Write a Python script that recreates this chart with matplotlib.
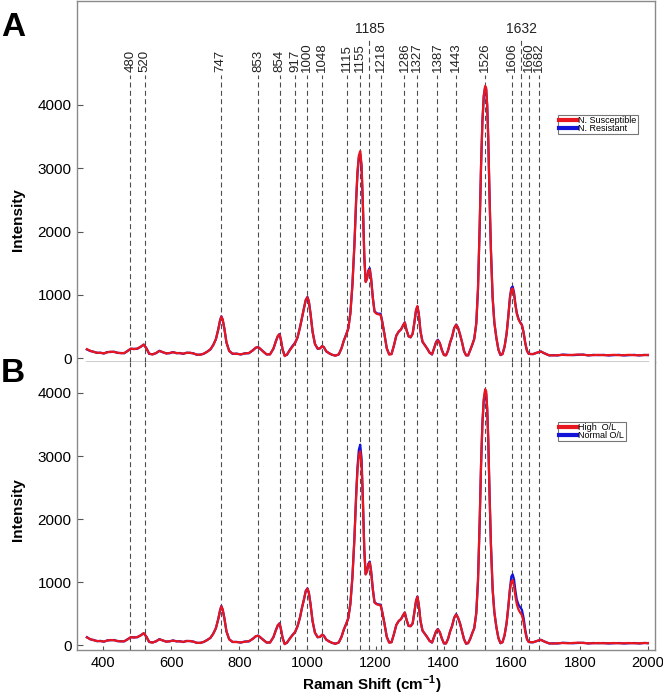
import matplotlib
matplotlib.use('Agg')
import matplotlib.pyplot as plt
from matplotlib.lines import Line2D

plt.rcParams['font.family'] = ['Liberation Sans', 'DejaVu Sans']
plt.rcParams['mathtext.fontset'] = 'custom'
plt.rcParams['mathtext.rm'] = 'Liberation Sans'
plt.rcParams['mathtext.bf'] = 'Liberation Sans:bold'

# ---------------- data ----------------
shift = [352, 362, 372, 382, 392, 402, 412, 422, 432, 442, 452, 462, 472, 481, 490, 500, 510, 519, 527, 535,
         545, 555, 565, 575, 585, 595, 605, 615, 625, 635, 645, 655, 665, 675, 685, 695, 705, 715, 723, 731,
         738, 743, 747, 751, 756, 762, 770, 780, 792, 804, 816, 828, 840, 848, 855, 862, 870, 880, 890, 900,
         907, 913, 918, 922, 927, 933, 940, 948, 956, 964, 971, 978, 984, 990, 995, 1000, 1004, 1009, 1015, 1022,
         1030, 1037, 1043, 1048, 1055, 1063, 1072, 1082, 1092, 1100, 1107, 1114, 1120, 1126, 1132, 1138, 1143, 1147, 1151, 1155,
         1159, 1163, 1167, 1171, 1175, 1179, 1183, 1187, 1192, 1197, 1203, 1209, 1215, 1220, 1226, 1233, 1240, 1247, 1254, 1261,
         1268, 1275, 1281, 1286, 1291, 1297, 1303, 1309, 1314, 1319, 1323, 1327, 1332, 1338, 1345, 1352, 1359, 1366, 1372, 1378,
         1383, 1389, 1395, 1401, 1407, 1413, 1419, 1425, 1431, 1437, 1442, 1448, 1454, 1460, 1466, 1472, 1478, 1484, 1490, 1496,
         1501, 1506, 1510, 1514, 1518, 1522, 1525, 1528, 1531, 1535, 1539, 1544, 1549, 1555, 1561, 1567, 1573, 1579, 1585, 1590,
         1595, 1599, 1603, 1607, 1611, 1615, 1620, 1625, 1630, 1635, 1640, 1645, 1650, 1656, 1663, 1671, 1679, 1686, 1693, 1701,
         1710, 1722, 1735, 1750, 1765, 1780, 1795, 1810, 1825, 1840, 1855, 1870, 1885, 1900, 1915, 1930, 1945, 1960, 1975, 1990,
         2000]

a_susceptible = [140, 115, 95, 85, 80, 75, 90, 100, 95, 85, 75, 80, 110, 150, 140, 150, 175, 215, 150, 70,
                 55, 80, 110, 95, 70, 80, 90, 80, 75, 70, 80, 85, 70, 55, 50, 70, 95, 140, 200, 300,
                 450, 590, 655, 610, 460, 250, 110, 70, 65, 60, 70, 80, 120, 165, 170, 145, 100, 60, 55, 150,
                 260, 350, 375, 290, 130, 30, 60, 120, 180, 240, 330, 480, 640, 790, 920, 960, 900, 700, 420, 220,
                 150, 150, 190, 170, 110, 75, 55, 35, 60, 150, 280, 370, 470, 700, 1150, 1800, 2500, 2950, 3200, 3270,
                 3050, 2400, 1600, 1200, 1250, 1370, 1400, 1250, 950, 730, 700, 690, 680, 560, 380, 150, 55, 60, 200, 350,
                 420, 450, 520, 560, 440, 340, 330, 380, 560, 760, 820, 700, 420, 260, 200, 150, 80, 60, 150, 250,
                 280, 230, 120, 45, 40, 120, 240, 340, 470, 525, 480, 380, 250, 110, 40, 45, 120, 210, 300, 550,
                 1100, 2100, 3050, 3750, 4150, 4300, 4270, 4000, 3500, 2550, 1700, 950, 560, 320, 130, 50, 60, 180, 380, 650,
                 950, 1080, 1100, 1000, 830, 700, 610, 560, 520, 400, 230, 110, 70, 60, 65, 75, 95, 100, 85, 60,
                 45, 40, 45, 50, 45, 50, 55, 50, 45, 45, 50, 45, 45, 50, 45, 45, 50, 45, 45, 45,
                 50]

a_resistant = [135, 110, 100, 80, 85, 70, 95, 95, 100, 80, 80, 75, 115, 145, 145, 145, 180, 210, 155, 65,
               60, 75, 115, 90, 75, 75, 95, 75, 80, 65, 85, 80, 75, 50, 55, 65, 100, 135, 205, 295,
               455, 585, 660, 605, 465, 245, 115, 65, 70, 55, 75, 75, 125, 160, 175, 140, 105, 55, 60, 145,
               265, 345, 380, 285, 135, 40, 50, 130, 190, 245, 325, 485, 635, 795, 915, 965, 895, 705, 415, 225,
               145, 155, 185, 175, 105, 80, 50, 40, 55, 155, 275, 375, 465, 705, 1145, 1790, 2480, 2920, 3170, 3230,
               3020, 2390, 1610, 1210, 1260, 1385, 1420, 1260, 960, 740, 710, 700, 700, 570, 385, 155, 60, 65, 195, 355,
               415, 455, 515, 565, 445, 345, 325, 385, 555, 755, 815, 705, 425, 255, 205, 145, 85, 55, 155, 255,
               290, 235, 125, 50, 45, 115, 245, 335, 475, 530, 485, 375, 255, 105, 45, 40, 125, 205, 305, 545,
               1090, 2090, 3040, 3740, 4140, 4280, 4250, 3990, 3490, 2540, 1710, 960, 565, 315, 135, 45, 65, 175, 385, 660,
               970, 1110, 1130, 1030, 850, 715, 620, 565, 525, 405, 235, 115, 65, 65, 60, 80, 90, 105, 80, 65,
               40, 45, 40, 55, 50, 45, 50, 55, 40, 50, 45, 50, 40, 45, 50, 40, 45, 50, 40, 50,
               45]

b_high = [120, 94, 75, 65, 61, 56, 70, 80, 75, 65, 56, 61, 89, 127, 117, 127, 150, 190, 127, 51,
          37, 61, 89, 75, 51, 61, 70, 61, 56, 51, 61, 65, 51, 37, 32, 51, 75, 117, 174, 269,
          410, 545, 615, 565, 420, 221, 89, 51, 46, 42, 51, 61, 98, 141, 146, 122, 80, 42, 37, 127,
          231, 316, 340, 259, 108, 13, 42, 98, 155, 212, 297, 439, 590, 732, 854, 895, 836, 647, 382, 193,
          127, 127, 165, 146, 89, 56, 37, 18, 42, 127, 250, 335, 429, 647, 1072, 1686, 2348, 2773, 3009, 3075,
          2867, 2253, 1497, 1119, 1166, 1280, 1310, 1166, 883, 675, 647, 637, 628, 514, 344, 127, 37, 42, 174, 316,
          382, 410, 476, 514, 401, 306, 297, 344, 514, 703, 765, 647, 382, 231, 174, 127, 61, 42, 127, 221,
          250, 202, 98, 28, 23, 98, 212, 306, 429, 485, 439, 344, 221, 89, 23, 28, 98, 183, 269, 505,
          1025, 1970, 2867, 3529, 3907, 4060, 4030, 3765, 3293, 2395, 1592, 883, 520, 287, 108, 32, 42, 155, 344, 599,
          883, 1006, 1030, 930, 769, 647, 562, 514, 476, 363, 202, 89, 51, 42, 46, 56, 75, 80, 65, 42,
          28, 23, 28, 32, 28, 32, 37, 32, 28, 28, 32, 28, 28, 32, 28, 28, 32, 28, 28, 30,
          32]

b_normal = [125, 90, 80, 60, 66, 52, 74, 76, 80, 60, 60, 58, 94, 122, 122, 123, 155, 185, 132, 47,
            42, 57, 94, 71, 56, 57, 74, 57, 61, 47, 66, 61, 56, 33, 36, 47, 80, 112, 179, 264,
            415, 540, 620, 560, 425, 216, 94, 47, 50, 38, 56, 57, 103, 136, 151, 118, 85, 38, 42, 122,
            236, 311, 345, 254, 113, 20, 35, 105, 160, 207, 302, 434, 595, 727, 859, 900, 831, 652, 377, 198,
            122, 132, 160, 151, 85, 61, 33, 23, 38, 132, 245, 340, 424, 652, 1067, 1700, 2380, 2830, 3100, 3180,
            2960, 2300, 1510, 1125, 1170, 1290, 1325, 1175, 890, 680, 655, 645, 640, 520, 350, 132, 42, 47, 170, 320,
            378, 415, 472, 518, 405, 302, 301, 340, 518, 699, 770, 642, 387, 227, 178, 122, 66, 38, 132, 217,
            255, 198, 103, 24, 28, 94, 217, 302, 434, 490, 435, 349, 217, 94, 20, 32, 94, 188, 265, 510,
            1020, 1965, 2860, 3520, 3890, 4020, 3990, 3740, 3280, 2390, 1600, 890, 525, 283, 112, 28, 47, 150, 349, 604,
            900, 1090, 1120, 1040, 860, 720, 640, 600, 560, 430, 240, 95, 47, 46, 42, 60, 71, 84, 61, 46,
            24, 27, 24, 36, 32, 28, 33, 36, 24, 32, 28, 32, 24, 28, 32, 24, 28, 32, 24, 34,
            28]

peak_labels = ['480', '520', '747', '853', '854', '917', '1000', '1048', '1115', '1155', '1185', '1218',
               '1286', '1327', '1387', '1443', '1526', '1606', '1632', '1660', '1682']
peak_lines = [480, 522, 745, 856, 918, 964, 1000, 1044, 1116, 1154, 1182, 1215,
              1285, 1323, 1382, 1437, 1521, 1600, 1628, 1651, 1680]
raised_labels = ['1185', '1632']

x_ticks = [400, 600, 800, 1000, 1200, 1400, 1600, 1800, 2000]
y_ticks = [0, 1000, 2000, 3000, 4000]
legend_a = ['N. Susceptible', 'N. Resistant']
legend_b = ['High  O/L', 'Normal O/L']

# ---------------- layout ----------------
W, H = 663, 697
fig = plt.figure(figsize=(W / 100, H / 100), dpi=100)


def fx(px):
    return px / W


def fy(py):
    return 1 - py / H


RED = '#E8161E'
BLUE = '#1414D8'
FRAME = '#8a8a8a'
DASH = '#4d4d4d'

axA = fig.add_axes([fx(77), fy(362), fx(655) - fx(77), fy(1) - fy(362)])
axB = fig.add_axes([fx(77), fy(650), fx(655) - fx(77), fy(362) - fy(650)])

for ax in (axA, axB):
    ax.set_xlim(323, 2021)
    ax.set_xticks(x_ticks)
    ax.set_yticks(y_ticks)
    ax.tick_params(axis='y', direction='in', length=4, width=0.8, color='#555555',
                   labelsize=11, pad=4)
    for s in ('left', 'right', 'top', 'bottom'):
        ax.spines[s].set_color(FRAME)
        ax.spines[s].set_linewidth(1.0)

axA.set_ylim(-63, 5644)
axB.set_ylim(-79, 4492)

# panel A bottom axis: black line with downward ticks, no labels
axA.spines['bottom'].set_color('black')
axA.spines['bottom'].set_bounds(350, 2000)
axA.tick_params(axis='x', direction='out', length=6, width=0.8, color='#333333',
                labelbottom=False)
axB.spines['top'].set_visible(False)
axB.tick_params(axis='x', direction='in', length=3, width=0.8, color='#555555',
                labelsize=10.5, pad=4)

# dashed reference lines and their labels
dash_style = (0, (4.5, 3))
for lab, pos in zip(peak_labels, peak_lines):
    raised = lab in raised_labels
    top = 5060 if raised else 4470
    axA.vlines(pos, -63, top, colors=DASH, linewidth=0.8, linestyles=[dash_style], zorder=1)
    axB.axvline(pos, color=DASH, linewidth=0.8, linestyle=dash_style, zorder=1)
    if raised:
        axA.text(pos, 5200, lab, ha='center', va='center', fontsize=10, color='#222222')
    else:
        axA.text(pos, 4520, lab, rotation=90, ha='center', va='bottom', fontsize=9.5,
                 color='#222222')

# spectra
axA.plot(shift, a_resistant, color=BLUE, lw=1.6, zorder=3)
axA.plot(shift, a_susceptible, color=RED, lw=1.6, zorder=4)
axB.plot(shift, b_normal, color=BLUE, lw=1.6, zorder=3)
axB.plot(shift, b_high, color=RED, lw=1.6, zorder=4)


def add_legend(ax, labels, px, py):
    handles = [Line2D([], [], color=RED, lw=3), Line2D([], [], color=BLUE, lw=3)]
    leg = ax.legend(handles, labels, loc='upper left', bbox_to_anchor=(fx(px), fy(py)),
                    bbox_transform=fig.transFigure, fontsize=6.5, frameon=True, fancybox=False,
                    edgecolor='#777777', framealpha=1, borderpad=0.15, borderaxespad=0,
                    handlelength=2.0, handletextpad=0.1, labelspacing=-0.15)
    leg.get_frame().set_linewidth(0.8)
    leg.set_zorder(6)


add_legend(axA, legend_a, 558, 115)
add_legend(axB, legend_b, 558, 422)

# panel letters and axis titles
fig.text(fx(1), fy(27), 'A', fontsize=24, fontweight='bold', ha='left', va='center')
fig.text(fx(1), fy(373), 'B', fontsize=24, fontweight='bold', ha='left', va='center')
fig.text(fx(18), fy(220), 'Intensity', rotation=90, fontsize=11, fontweight='bold',
         ha='center', va='center')
fig.text(fx(18), fy(510), 'Intensity', rotation=90, fontsize=11, fontweight='bold',
         ha='center', va='center')
fig.text(fx(372), fy(685), r'Raman Shift (cm$^{\mathbf{-1}}$)', fontsize=11, fontweight='bold',
         ha='center', va='center')

fig.savefig('out.png', dpi=100)
